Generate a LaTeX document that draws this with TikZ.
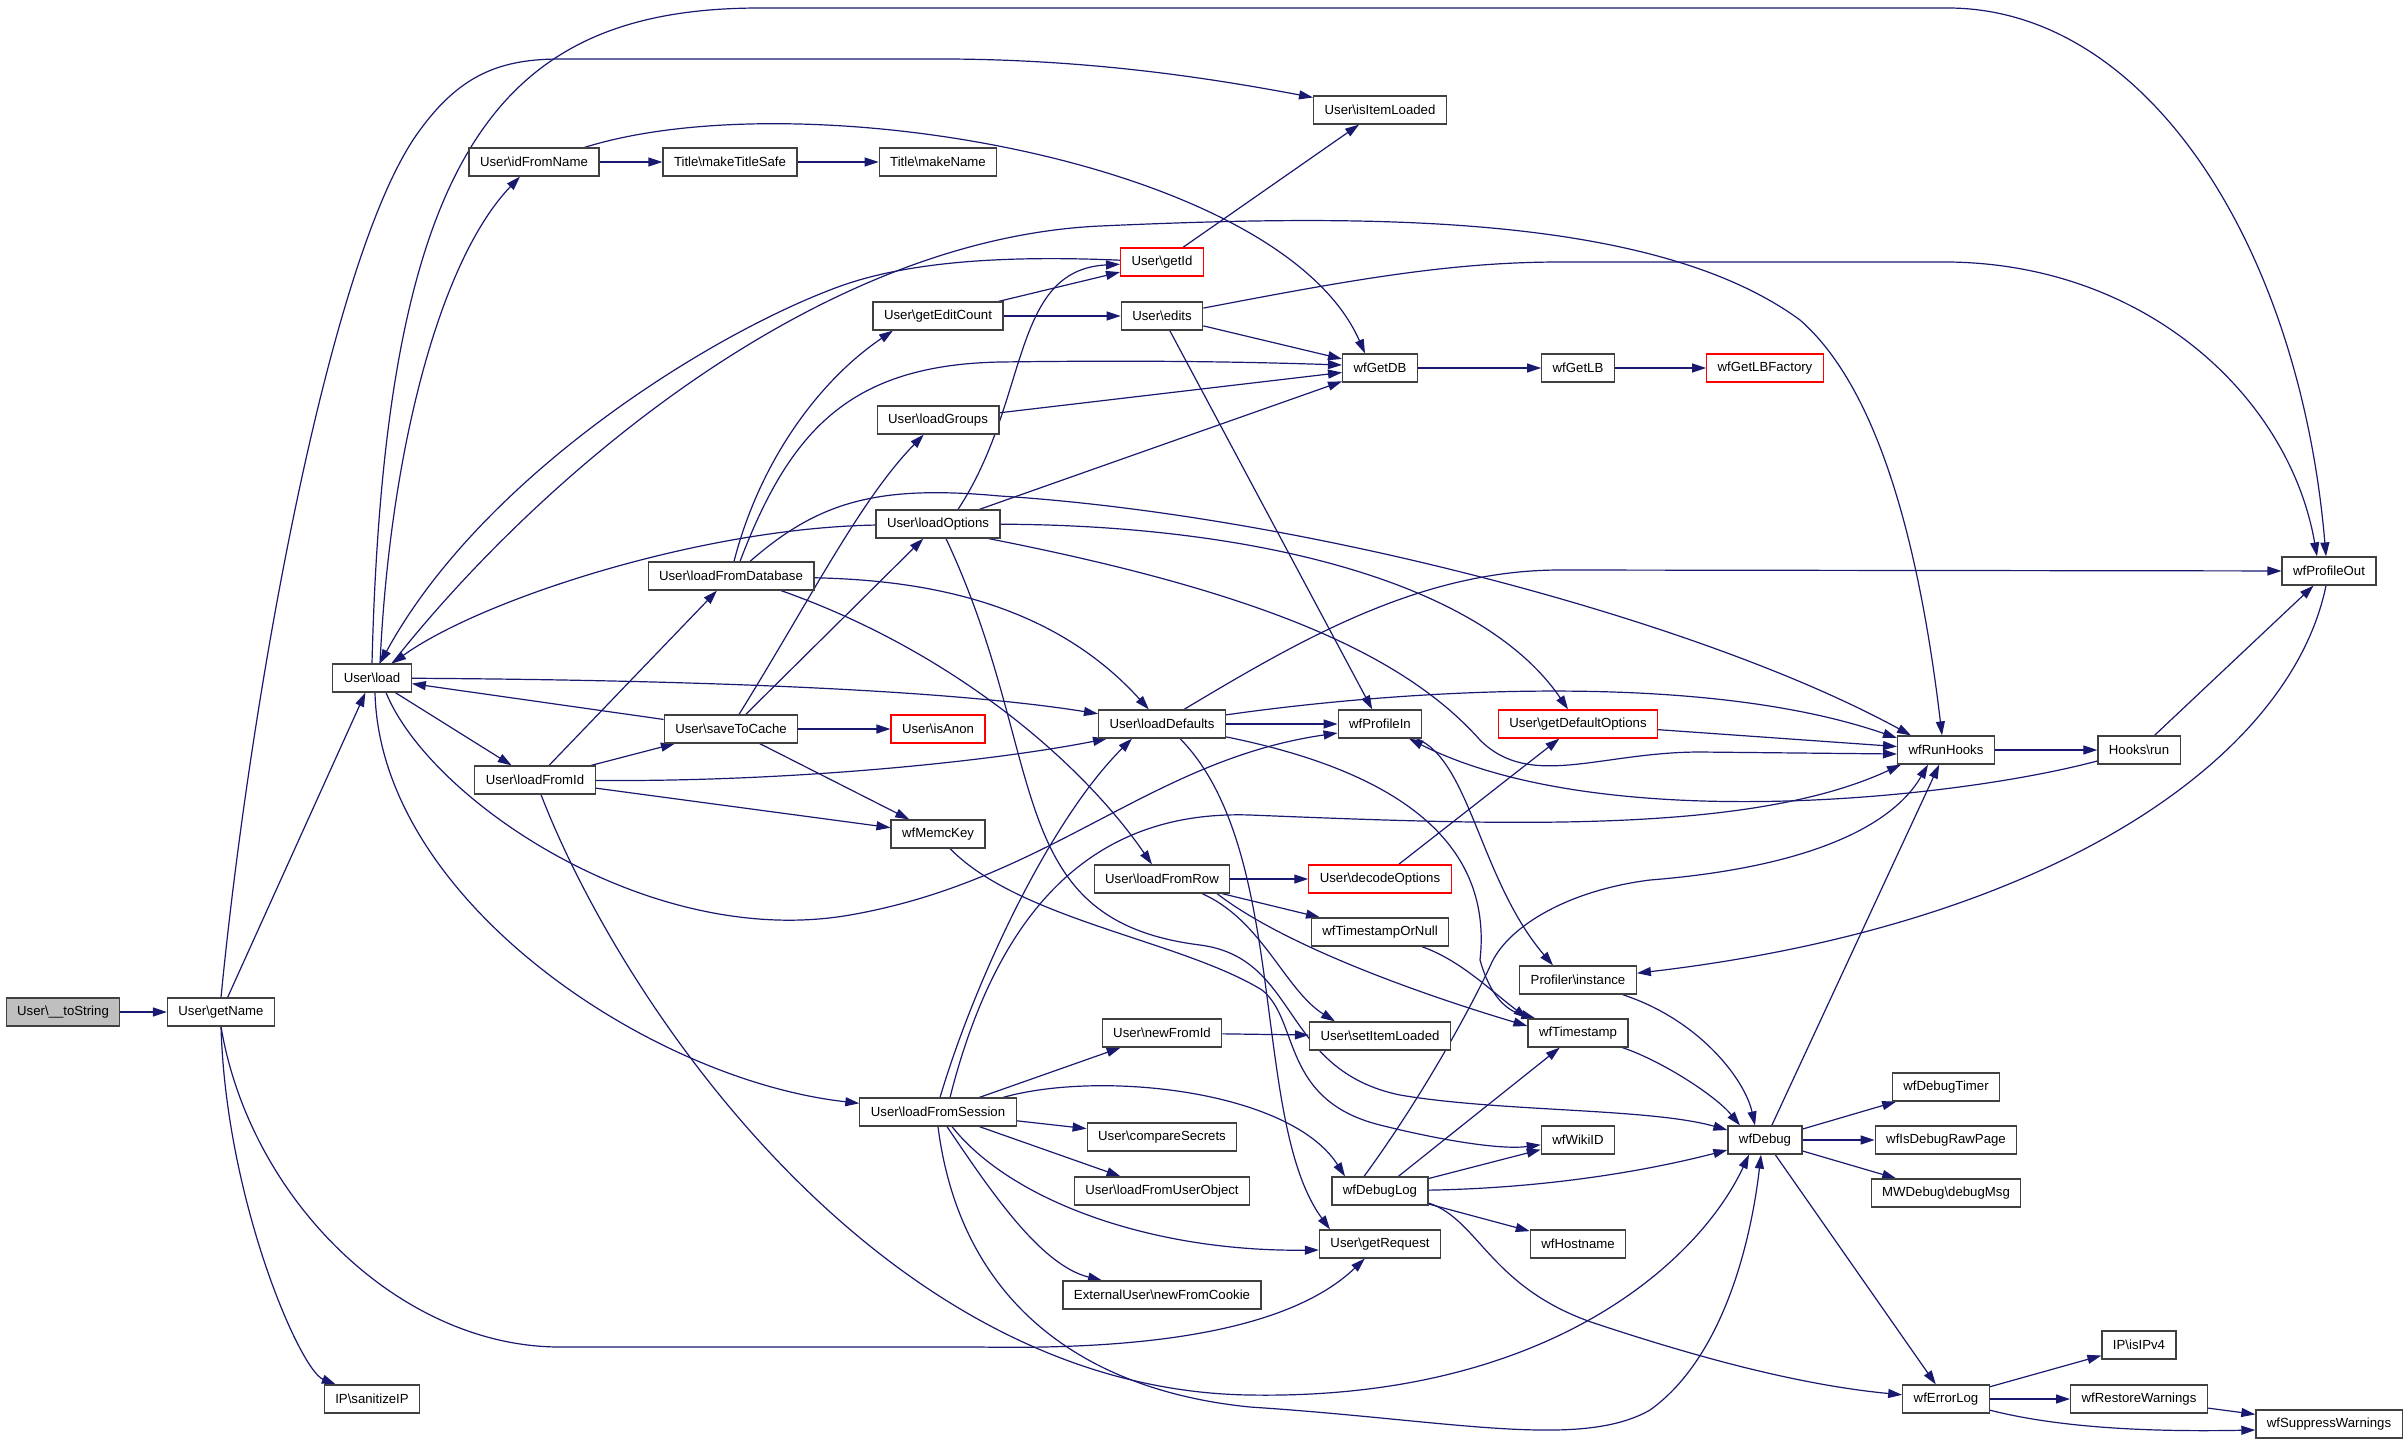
\documentclass[tikz,border=0pt]{standalone}
\usepackage{fontspec}
\setmainfont{Liberation Sans}
\usetikzlibrary{arrows.meta,backgrounds}
\definecolor{edgeblue}{HTML}{191970}
\definecolor{boxgray}{HTML}{404040}
\definecolor{rootgray}{HTML}{BFBFBF}
\definecolor{boxred}{HTML}{FF0000}
\def\bs{\textbackslash}
\newcommand\fnfont{\fontsize{13.2}{15}\selectfont}
\tikzset{%
  fn/.style={draw=boxgray,fill=white,line width=1.2pt,minimum height=28pt,%
    inner xsep=11pt,inner ysep=0pt,font=\fnfont},%
  fnred/.style={fn,draw=boxred},%
  fnroot/.style={fn,fill=rootgray},%
  callarrow/.style={draw=edgeblue,line width=1.2pt,-{Triangle[length=14pt,width=9pt]}}%
}

\begin{document}
\begin{tikzpicture}[x=1pt,y=-1pt]%
  \useasboundingbox (0,0) rectangle (2408,1444);%
  % the function that is documented
  \node[fnroot] (tostr) at (63,1012) {User\bs\_\_toString};%
  % called functions, black frame
  \foreach \nm/\px/\py/\txt in {%
      getname/221/1012/User\bs{}getName,%
      sanip/372/1399/IP\bs{}sanitizeIP,%
      load/372/678/User\bs{}load,%
      idfn/534/162/User\bs{}idFromName,%
      lfid/535/780/User\bs{}loadFromId,%
      mts/730/162/Title\bs{}makeTitleSafe,%
      mkname/938/162/Title\bs{}makeName,%
      lfdb/731/576/User\bs{}loadFromDatabase,%
      s2c/731/729/User\bs{}saveToCache,%
      lfsess/938/1112/User\bs{}loadFromSession,%
      gec/938/316/User\bs{}getEditCount,%
      edits/1162/316/User\bs{}edits,%
      lgroups/938/420/User\bs{}loadGroups,%
      lopts/938/524/User\bs{}loadOptions,%
      memc/938/834/wfMemcKey,%
      ldef/1162/724/User\bs{}loadDefaults,%
      lfrow/1162/879/User\bs{}loadFromRow,%
      newfid/1162/1033/User\bs{}newFromId,%
      cmpsec/1162/1137/User\bs{}compareSecrets,%
      lfuo/1162/1191/User\bs{}loadFromUserObject,%
      nfc/1162/1295/ExternalUser\bs{}newFromCookie,%
      isil/1380/110/User\bs{}isItemLoaded,%
      getdb/1380/368/wfGetDB,%
      pin/1380/724/wfProfileIn,%
      tsnull/1380/932/wfTimestampOrNull,%
      setil/1380/1036/User\bs{}setItemLoaded,%
      dlog/1380/1191/wfDebugLog,%
      getreq/1380/1244/User\bs{}getRequest,%
      getlb/1578/368/wfGetLB,%
      pinst/1578/980/Profiler\bs{}instance,%
      ts/1578/1033/wfTimestamp,%
      wikiid/1578/1140/wfWikiID,%
      host/1578/1244/wfHostname,%
      dbg/1765/1140/wfDebug,%
      runh/1946/750/wfRunHooks,%
      dtimer/1946/1087/wfDebugTimer,%
      rawpage/1946/1140/wfIsDebugRawPage,%
      dmsg/1946/1193/MWDebug\bs{}debugMsg,%
      elog/1946/1399/wfErrorLog,%
      hrun/2139/750/Hooks\bs{}run,%
      ipv4/2139/1345/IP\bs{}isIPv4,%
      restw/2139/1399/wfRestoreWarnings,%
      pout/2329/571/wfProfileOut,%
      suppw/2329/1424/wfSuppressWarnings%
    }{%
      \node[fn] (\nm) at (\px,\py) {\txt};%
    };%
  % truncated ones, red frame
  \foreach \nm/\px/\py/\txt in {%
      getid/1162/262/User\bs{}getId,%
      isanon/938/729/User\bs{}isAnon,%
      decopt/1380/879/User\bs{}decodeOptions,%
      gdo/1578/724/User\bs{}getDefaultOptions,%
      lbf/1765/368/wfGetLBFactory%
    }{%
      \node[fnred] (\nm) at (\px,\py) {\txt};%
    };%
  \begin{pgfonlayer}{background}%
    \fill[white] (0,0) rectangle (2408,1444);%
    % plain calls
    \foreach \from/\to in {%
        tostr/getname, getname/load, load/lfid, idfn/mts, mts/mkname,%
        getid/isil, gec/getid, gec/edits, edits/getdb, edits/pin,%
        lgroups/getdb, lopts/getdb, s2c/load, s2c/lopts, s2c/isanon,%
        s2c/memc, lfid/lfdb, lfid/s2c, lfid/memc, ldef/pin,%
        lfrow/decopt, lfrow/tsnull, decopt/gdo, gdo/runh, getdb/getlb,%
        getlb/lbf, runh/hrun, hrun/pout, lfsess/newfid, lfsess/cmpsec,%
        lfsess/lfuo, newfid/setil, dlog/ts, dlog/wikiid, dlog/host,%
        dbg/dtimer, dbg/rawpage, dbg/dmsg, dbg/runh, dbg/elog,%
        elog/ipv4, elog/restw, restw/suppw%
      }{%
        \draw[callarrow] (\from) -- (\to);%
      };%
    % bent calls
    \draw[callarrow] (getname.north) .. controls (250,700) and (330,250) .. (420,130)%
      .. controls (460,75) and (500,59) .. (560,59) -- (950,59)%
      .. controls (1100,60) and (1220,80) .. (isil);%
    \draw[callarrow] (getname.south) .. controls (226,1200) and (300,1370) .. (sanip);%
    \draw[callarrow] (getname.south) .. controls (250,1200) and (400,1347) .. (560,1347)%
      -- (980,1347) .. controls (1150,1350) and (1290,1330) .. (getreq);%
    \draw[callarrow] ([xshift=8pt]load.north) .. controls (390,450) and (440,260) .. (idfn);%
    \draw[callarrow] (load.north) .. controls (385,150) and (500,8) .. (760,8)%
      -- (1950,8) .. controls (2150,10) and (2300,250) .. ([xshift=-3pt]pout.north);%
    \draw[callarrow] ([xshift=20pt]load.north) .. controls (520,500) and (800,240) .. (1100,226)%
      .. controls (1350,215) and (1650,210) .. (1800,320)%
      .. controls (1880,390) and (1920,550) .. ([xshift=-4pt]runh.north);%
    \draw[callarrow] (getid) .. controls (1000,255) and (900,262) .. (830,290)%
      .. controls (700,340) and (480,480) .. (load);%
    \draw[callarrow] (lopts) .. controls (700,528) and (480,600) .. (load);%
    \draw[callarrow] (load) .. controls (700,680) and (950,690) .. (ldef);%
    \draw[callarrow] ([xshift=3pt]load.south) .. controls (380,900) and (650,1080) .. (lfsess);%
    \draw[callarrow] ([xshift=14pt]load.south) .. controls (430,800) and (650,950) .. (850,915)%
      .. controls (1050,880) and (1150,760) .. ([yshift=-9pt]pin.west);%
    \draw[callarrow] ([xshift=-15pt]idfn.north east) .. controls (800,80) and (1280,160) .. ([xshift=-15pt]getdb.north);%
    \draw[callarrow] (edits) .. controls (1350,280) and (1450,262) .. (1560,262)%
      -- (1950,262) .. controls (2150,265) and (2290,400) .. ([xshift=-12pt]pout.north);%
    \draw[callarrow] ([xshift=20pt]lopts.north) .. controls (1030,400) and (1010,270) .. (getid);%
    \draw[callarrow] (lopts) .. controls (1250,525) and (1480,580) .. (gdo);%
    \draw[callarrow] ([xshift=-12pt]lopts.south east) .. controls (1250,590) and (1400,650) .. (1480,740)%
      .. controls (1530,790) and (1600,752) .. (1700,752) -- ([yshift=-4pt]runh.west);%
    \draw[callarrow] ([xshift=8pt]lopts.south) .. controls (1050,760) and (1000,920) .. (1200,945)%
      .. controls (1300,958) and (1280,1070) .. (1400,1095)%
      .. controls (1500,1112) and (1650,1108) .. ([yshift=10pt]dbg.west);%
    \draw[callarrow] ([xshift=3pt]lfdb.north) .. controls (760,460) and (820,380) .. ([xshift=-45pt]gec.south);%
    \draw[callarrow] ([xshift=9pt]lfdb.north) .. controls (790,430) and (850,365) .. (1000,362)%
      .. controls (1150,360) and (1250,362) .. ([yshift=3pt]getdb.west);%
    \draw[callarrow] ([xshift=19pt]lfdb.north) .. controls (820,500) and (880,485) .. (1000,496)%
      .. controls (1300,515) and (1700,620) .. ([xshift=-35pt]runh.north);%
    \draw[callarrow] (lfdb) .. controls (920,580) and (1050,600) .. (ldef);%
    \draw[callarrow] ([xshift=50pt]lfdb.south) .. controls (950,650) and (1080,760) .. (lfrow);%
    \draw[callarrow] ([xshift=8pt]s2c.north) .. controls (810,600) and (860,500) .. (lgroups);%
    \draw[callarrow] (lfid) .. controls (800,782) and (1000,760) .. ([xshift=-55pt]ldef.south);%
    \draw[callarrow] ([xshift=6pt]lfid.south) .. controls (620,1000) and (880,1390) .. (1250,1395)%
      .. controls (1550,1400) and (1700,1260) .. ([xshift=-16pt]dbg.south);%
    \draw[callarrow] ([xshift=12pt]memc.south) .. controls (1020,920) and (1180,940) .. (1262,990)%
      .. controls (1300,1020) and (1280,1100) .. (1380,1125)%
      .. controls (1440,1140) and (1500,1150) .. (wikiid);%
    \draw[callarrow] (ldef) .. controls (1400,690) and (1700,670) .. ([yshift=12pt]runh.west);%
    \draw[callarrow] ([xshift=22pt]ldef.north) .. controls (1300,640) and (1420,570) .. (1560,570) -- (pout);%
    \draw[callarrow] ([xshift=18pt]ldef.south) .. controls (1290,850) and (1250,1120) .. ([xshift=-50pt]getreq.north);%
    \draw[callarrow] (ldef) .. controls (1440,780) and (1490,870) .. (1480,960)%
      .. controls (1490,995) and (1505,1010) .. ([xshift=8pt]ts.north west);%
    \draw[callarrow] ([xshift=40pt]lfrow.south) .. controls (1262,920) and (1285,990) .. ([xshift=-45pt]setil.north);%
    \draw[callarrow] ([xshift=55pt]lfrow.south) .. controls (1290,950) and (1440,1000) .. ([yshift=7pt]ts.west);%
    \draw[callarrow] (tsnull) .. controls (1460,960) and (1490,990) .. (ts.north west);%
    \draw[callarrow] (pin) .. controls (1470,760) and (1480,880) .. ([xshift=-25pt]pinst.north);%
    \draw[callarrow] (hrun) .. controls (1950,800) and (1600,835) .. (pin);%
    \draw[callarrow] (pout) .. controls (2290,760) and (2050,925) .. (pinst);%
    \draw[callarrow] (pinst) .. controls (1700,1020) and (1745,1080) .. ([xshift=-10pt]dbg.north);%
    \draw[callarrow] (ts) .. controls (1660,1060) and (1715,1095) .. ([xshift=-25pt]dbg.north);%
    \draw[callarrow] ([xshift=9pt]lfsess.south) .. controls (990,1190) and (1040,1265) .. ([xshift=-60pt]nfc.north);%
    \draw[callarrow] ([xshift=14pt]lfsess.south) .. controls (1010,1200) and (1150,1252) .. ([yshift=-6pt]getreq.west);%
    \draw[callarrow] ([xshift=65pt]lfsess.north) .. controls (1100,1070) and (1290,1090) .. ([xshift=-35pt]dlog.north);%
    \draw[callarrow] (lfsess.south) .. controls (960,1300) and (1080,1390) .. (1250,1407)%
      .. controls (1450,1420) and (1580,1450) .. (1650,1410)%
      .. controls (1720,1360) and (1750,1250) .. ([xshift=-4pt]dbg.south);%
    \draw[callarrow] ([xshift=2pt]lfsess.north) .. controls (975,980) and (1050,820) .. ([xshift=-30pt]ldef.south);%
    \draw[callarrow] ([xshift=12pt]lfsess.north) .. controls (1000,900) and (1100,810) .. (1250,815)%
      .. controls (1500,825) and (1750,835) .. ([xshift=-45pt]runh.south);%
    \draw[callarrow] ([xshift=-16pt]dlog.north) .. controls (1420,1100) and (1470,1010) .. (1492,962)%
      .. controls (1510,925) and (1570,890) .. (1650,880)%
      .. controls (1800,868) and (1890,830) .. ([xshift=-18pt]runh.south);%
    \draw[callarrow] (dlog) .. controls (1550,1188) and (1650,1170) .. ([yshift=-10pt]dbg.west);%
    \draw[callarrow] ([yshift=-12pt]dlog.east) .. controls (1480,1220) and (1490,1290) .. (1600,1325)%
      .. controls (1700,1358) and (1800,1385) .. (elog);%
    \draw[callarrow] (elog) .. controls (2060,1428) and (2150,1432) .. ([yshift=-6pt]suppw.west);%
  \end{pgfonlayer}%
\end{tikzpicture}
\end{document}
